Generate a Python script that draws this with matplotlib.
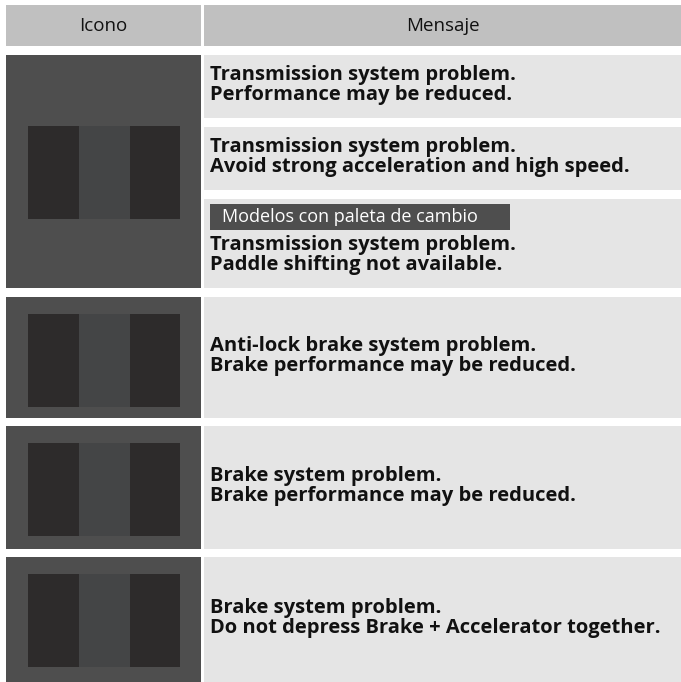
import matplotlib
matplotlib.use("Agg")
import matplotlib.pyplot as plt
from matplotlib.patches import Rectangle

# table content
headers = ["Icono", "Mensaje"]
row1_msgs = [
    ["Transmission system problem.", "Performance may be reduced."],
    ["Transmission system problem.", "Avoid strong acceleration and high speed."],
    ["Transmission system problem.", "Paddle shifting not available."],
]
row1_tag = "Modelos con paleta de cambio"
other_msgs = [
    ["Anti-lock brake system problem.", "Brake performance may be reduced."],
    ["Brake system problem.", "Brake performance may be reduced."],
    ["Brake system problem.", "Do not depress Brake + Accelerator together."],
]

W, H = 681, 682
fig = plt.figure(figsize=(W / 100, H / 100), dpi=100)
ax = fig.add_axes([0, 0, 1, 1])
ax.set_xlim(0, W)
ax.set_ylim(H, 0)
ax.axis("off")

FONT = "Open Sans"
HEAD_C = "#c0c0c0"
MSG_C = "#e5e5e5"
ICON_C = "#4e4e4e"
DARK_C = "#2d2b2b"
MID_C = "#444546"

ix0, ix1 = 6, 201
mx0, mx1 = 204, 681


def rect(x0, y0, x1, y1, c):
    ax.add_patch(Rectangle((x0, y0), x1 - x0, y1 - y0, facecolor=c, edgecolor="none"))


def icon(y0, y1, iy0):
    rect(ix0, y0, ix1, y1, ICON_C)
    rect(28, iy0, 79, iy0 + 93, DARK_C)
    rect(79, iy0, 130, iy0 + 93, MID_C)
    rect(130, iy0, 180, iy0 + 93, DARK_C)


def two_lines(lines, base):
    for k, s in enumerate(lines):
        ax.text(210, base + 20 * k, s, fontsize=14.5, fontweight="bold",
                family=FONT, color="#111111", va="baseline", ha="left")


# header
rect(ix0, 5, ix1, 46, HEAD_C)
rect(mx0, 5, mx1, 46, HEAD_C)
ax.text((ix0 + ix1) / 2, 26, headers[0], fontsize=13.5, family=FONT,
        ha="center", va="center", color="#111111")
ax.text((mx0 + mx1) / 2, 26, headers[1], fontsize=13.5, family=FONT,
        ha="center", va="center", color="#111111")

# row 1: transmission, three sub messages
icon(55, 288, 126)
subs = [(55, 118), (127, 190)]
for (y0, y1), lines in zip(subs, row1_msgs[:2]):
    rect(mx0, y0, mx1, y1, MSG_C)
    c = (y0 + y1) / 2
    two_lines(lines, c - 6.5)
rect(mx0, 199, mx1, 288, MSG_C)
rect(210, 204, 510, 230, ICON_C)
ax.text(222, 217, row1_tag, fontsize=13, family=FONT, color="white",
        ha="left", va="center")
two_lines(row1_msgs[2], 250)

# remaining rows
rows = [(297, 418, 314), (426, 549, 443), (557, 682, 574)]
for (y0, y1, iy0), lines in zip(rows, other_msgs):
    icon(y0, y1, iy0)
    rect(mx0, y0, mx1, y1, MSG_C)
    c = (y0 + y1) / 2
    two_lines(lines, c - 6.5)

fig.savefig("out.png", dpi=100)
